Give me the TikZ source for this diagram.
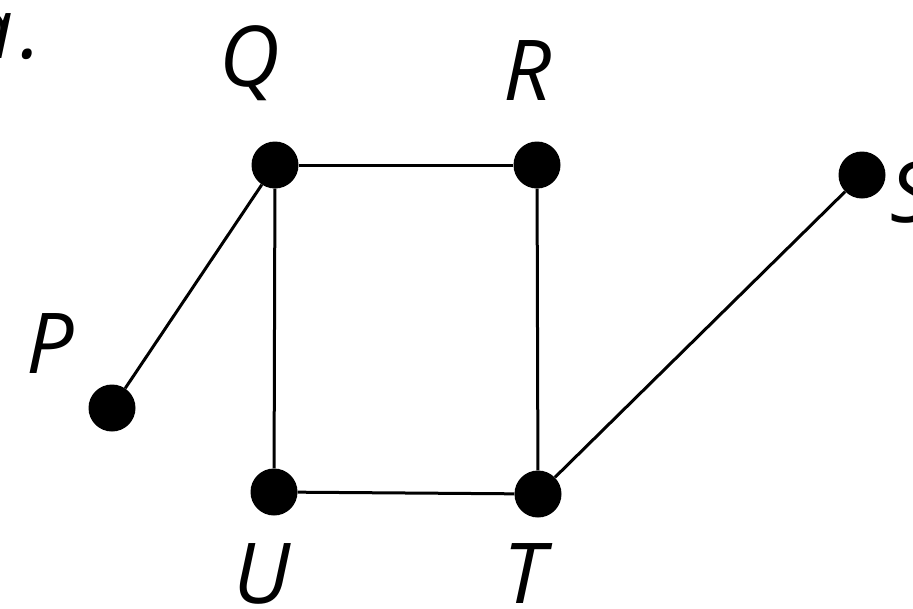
\documentclass[tikz,border=0pt]{standalone}
\usepackage{fontspec}
\setmainfont{Open Sans}
\begin{document}
\begin{tikzpicture}[x=1pt,y=-1pt,
  vertex/.style={circle,fill=black,inner sep=0pt,minimum size=47pt},
  lbl/.style={inner sep=0pt,font=\fontsize{84}{100}\selectfont\itshape},
  edge/.style={line width=3pt}]
  \useasboundingbox (0,0) rectangle (913,608);
  \clip (0,0) rectangle (913,608);

  % vertices
  \node[vertex] (Q) at (275,165) {};
  \node[vertex] (R) at (537,165) {};
  \node[vertex] (S) at (862,175) {};
  \node[vertex] (P) at (112,408) {};
  \node[vertex] (U) at (274,492) {};
  \node[vertex] (T) at (538,494) {};

  % edges
  \draw[edge] (Q) -- (R);
  \draw[edge] (R) -- (T);
  \draw[edge] (T) -- (U);
  \draw[edge] (U) -- (Q);
  \draw[edge] (Q) -- (P);
  \draw[edge] (T) -- (S);

  % labels
  \node[lbl,anchor=base east] (la) at (42,58) {a\kern8pt.};
  \node[lbl,anchor=base] (lQ) at (250,86) {Q};
  \node[lbl,anchor=base] (lR) at (528,100) {R};
  \node[lbl,anchor=base west] (lS) at (890,222) {S};
  \node[lbl,anchor=base] (lP) at (50,373) {P};
  \node[lbl,anchor=base] (lU) at (262,603) {U};
  \node[lbl,anchor=base] (lT) at (524,603) {T};
\end{tikzpicture}
\end{document}
